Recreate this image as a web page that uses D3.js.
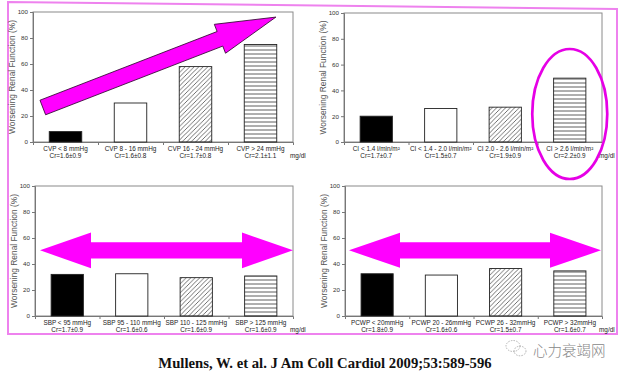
<!DOCTYPE html>
<html>
<head>
<meta charset="utf-8">
<script src="https://cdn.jsdelivr.net/npm/d3@7"></script>
<style>
  body { margin: 0; background: #fff; }
  svg { display: block; }
</style>
</head>
<body>
<div id="chart"></div>
<script>
// ---- data ------------------------------------------------------------
var yTicks = [0, 20, 40, 60, 80, 100];

var cvpLabels = ["CVP < 8 mmHg", "CVP 8 - 16 mmHg", "CVP 16 - 24 mmHg", "CVP > 24 mmHg"];
var cvpCr = ["Cr=1.6±0.9", "Cr=1.6±0.8", "Cr=1.7±0.8", "Cr=2.1±1.1"];
var cvpValues = [8, 30, 58, 75];

var ciLabels = ["CI < 1.4 l/min/m²", "CI < 1.4 - 2.0 l/min/m²", "CI 2.0 - 2.6 l/min/m²", "CI > 2.6 l/min/m²"];
var ciCr = ["Cr=1.7±0.7", "Cr=1.5±0.7", "Cr=1.9±0.9", "Cr=2.2±0.9"];
var ciValues = [20, 26, 27, 49.5];

var sbpLabels = ["SBP < 95 mmHg", "SBP 95 - 110 mmHg", "SBP 110 - 125 mmHg", "SBP > 125 mmHg"];
var sbpCr = ["Cr=1.7±0.9", "Cr=1.6±0.6", "Cr=1.6±0.9", "Cr=1.6±0.9"];
var sbpValues = [32, 32.5, 29.5, 30.8];

var pcwpLabels = ["PCWP < 20mmHg", "PCWP 20 - 26mmHg", "PCWP 26 - 32mmHg", "PCWP > 32mmHg"];
var pcwpCr = ["Cr=1.8±0.9", "Cr=1.6±0.6", "Cr=1.5±0.7", "Cr=1.6±0.7"];
var pcwpValues = [32.5, 31.5, 36.5, 34.7];

var yTitle = "Worsening Renal Function (%)";
var unitLabel = "mg/dl";
var citation = "Mullens, W. et al. J Am Coll Cardiol 2009;53:589-596";
var watermark = "心力衰竭网";

// ---- layout ----------------------------------------------------------
var width = 626, height = 378;
var magenta = '#ff00ff';
var smallFont = "'Liberation Sans', Arial, sans-serif";
var smallSize = '6.4px';

var panels = [
    { labels: cvpLabels, cr: cvpCr, values: cvpValues, left: 33, right: 293, top: 12, bottom: 142 },
    { labels: ciLabels, cr: ciCr, values: ciValues, left: 344, right: 602, top: 13, bottom: 142 },
    { labels: sbpLabels, cr: sbpCr, values: sbpValues, left: 35, right: 293, top: 186, bottom: 316 },
    { labels: pcwpLabels, cr: pcwpCr, values: pcwpValues, left: 345, right: 602, top: 186, bottom: 316 }
];

var fills = ['#000', '#fff', 'url(#diag)', 'url(#horiz)'];

var svg = d3.select('#chart').append('svg')
    .attr('width', width)
    .attr('height', height);

// hatch patterns
var defs = svg.append('defs');
defs.append('pattern')
    .attr('id', 'diag')
    .attr('patternUnits', 'userSpaceOnUse')
    .attr('width', 4.5).attr('height', 4.5)
    .append('path')
    .attr('d', 'M-1,1 l2,-2 M0,4.5 l4.5,-4.5 M3.5,5.5 l2,-2')
    .attr('stroke', '#333').attr('stroke-width', 0.7);
var hp = defs.append('pattern')
    .attr('id', 'horiz')
    .attr('patternUnits', 'userSpaceOnUse')
    .attr('width', 4).attr('height', 4);
hp.append('rect').attr('width', 4).attr('height', 4).attr('fill', '#fff');
hp.append('line')
    .attr('x1', 0).attr('x2', 4).attr('y1', 2).attr('y2', 2)
    .attr('stroke', '#333').attr('stroke-width', 0.8);

// pink frame round the whole figure
svg.append('path')
    .attr('d', 'M8,2 L617,9 L617,334 L8,334 Z')
    .attr('fill', 'none')
    .attr('stroke', '#ee82ee')
    .attr('stroke-width', 2);

// ---- panels ----------------------------------------------------------
panels.forEach(function(p) {
    var g = svg.append('g')
        .attr('transform', 'translate(' + p.left + ',' + p.top + ')');
    var w = p.right - p.left, h = p.bottom - p.top;

    var x = d3.scaleBand()
        .domain(d3.range(p.values.length))
        .range([0, w])
        .paddingInner(0.5)
        .paddingOuter(0.25);
    var y = d3.scaleLinear().domain([0, 100]).range([h, 0]);
    var xSep = d3.scaleLinear().domain([0, p.values.length]).range([0, w]);
    p.x = x; p.y = y; p.g = g;

    // plot frame
    g.append('rect')
        .attr('width', w).attr('height', h)
        .attr('fill', 'none')
        .attr('stroke', '#8a8a8a')
        .attr('stroke-width', 1);

    // y axis
    var ya = g.append('g')
        .call(d3.axisLeft(y).tickValues(yTicks).tickSize(3).tickPadding(2));
    ya.select('.domain').attr('stroke', '#777');
    ya.selectAll('.tick line').attr('stroke', '#777');
    ya.selectAll('.tick text')
        .attr('fill', '#333')
        .style('font-family', smallFont)
        .style('font-size', '6.2px');

    // x axis separators
    var xa = g.append('g')
        .attr('transform', 'translate(0,' + h + ')')
        .call(d3.axisBottom(xSep).tickValues([1, 2, 3]).tickSize(3).tickFormat(''));
    xa.select('.domain').attr('stroke', '#777');
    xa.selectAll('.tick line').attr('stroke', '#777');

    // bars
    g.selectAll('rect.bar')
        .data(p.values)
        .enter().append('rect')
        .attr('class', 'bar')
        .attr('x', function(d, i) { return x(i); })
        .attr('y', function(d) { return y(d); })
        .attr('width', x.bandwidth())
        .attr('height', function(d) { return h - y(d); })
        .attr('fill', function(d, i) { return fills[i]; })
        .attr('stroke', '#222')
        .attr('stroke-width', 0.9);

    // category labels, two lines each
    g.selectAll('text.cat')
        .data(p.labels)
        .enter().append('text')
        .attr('class', 'cat')
        .attr('text-anchor', 'middle')
        .attr('fill', '#222')
        .attr('x', function(d, i) { return x(i) + x.bandwidth() / 2; })
        .attr('y', h + 8.5)
        .style('font-family', smallFont)
        .style('font-size', smallSize)
        .text(function(d) { return d; });
    g.selectAll('text.cr')
        .data(p.cr)
        .enter().append('text')
        .attr('class', 'cr')
        .attr('text-anchor', 'middle')
        .attr('fill', '#222')
        .attr('x', function(d, i) { return x(i) + x.bandwidth() / 2; })
        .attr('y', h + 16)
        .style('font-family', smallFont)
        .style('font-size', smallSize)
        .text(function(d) { return d; });

    g.append('text')
        .attr('x', w - 3).attr('y', h + 16)
        .attr('fill', '#222')
        .style('font-family', smallFont)
        .style('font-size', smallSize)
        .text(unitLabel);

    // y title
    g.append('text')
        .attr('transform', 'translate(-18,' + (h / 2) + ') rotate(-90)')
        .attr('text-anchor', 'middle')
        .attr('fill', '#555')
        .style('font-family', "'Liberation Sans', Arial, sans-serif")
        .style('font-size', '8.4px')
        .text(yTitle);
});

// ---- annotations -----------------------------------------------------
function singleArrow(len, s, hl, hh) {
    return [[0, -s], [len - hl, -s], [len - hl, -hh], [len, 0], [len - hl, hh], [len - hl, s], [0, s]];
}
function doubleArrow(len, s, hl, hh) {
    return [[0, 0], [hl, -hh], [hl, -s], [len - hl, -s], [len - hl, -hh], [len, 0],
            [len - hl, hh], [len - hl, s], [hl, s], [hl, hh]];
}
var line = d3.line();

// rising arrow over the CVP panel
var p0 = panels[0];
p0.g.append('path')
    .attr('transform', 'translate(9.8,95.5) rotate(-21.2)')
    .attr('d', line(singleArrow(250, 7.8, 60, 15.5)) + 'Z')
    .attr('fill', magenta)
    .attr('stroke', '#3a0a3a')
    .attr('stroke-width', 0.8);

// flat double arrows over the SBP and PCWP panels, at the 50% level
[[panels[2], 5, 253, 51, 17.8], [panels[3], 4, 252, 51, 17.5]].forEach(function(a) {
    var p = a[0];
    p.g.append('path')
        .attr('transform', 'translate(' + a[1] + ',' + p.y(50.5) + ')')
        .attr('d', line(doubleArrow(a[2], 8.2, a[3], a[4])) + 'Z')
        .attr('fill', magenta);
});

// ellipse round the CI > 2.6 bar
var p1 = panels[1];
p1.g.append('ellipse')
    .attr('cx', p1.x(3) + p1.x.bandwidth() / 2)
    .attr('cy', 101)
    .attr('rx', 37.5)
    .attr('ry', 65)
    .attr('fill', 'none')
    .attr('stroke', '#e600e6')
    .attr('stroke-width', 2.7);

// ---- citation and watermark ------------------------------------------
svg.append('text')
    .attr('x', 325).attr('y', 368)
    .attr('text-anchor', 'middle')
    .attr('fill', '#111')
    .style('font-family', "Georgia, 'Liberation Serif', 'DejaVu Serif', serif")
    .style('font-weight', 'bold')
    .style('font-size', '14.7px')
    .text(citation);

var wm = svg.append('g').attr('fill', 'none').attr('stroke', '#aaa').attr('stroke-width', 0.9)
    .attr('stroke-dasharray', '1.5,1.2');
wm.append('ellipse').attr('cx', 513).attr('cy', 346).attr('rx', 7).attr('ry', 5.5);
wm.append('ellipse').attr('cx', 520).attr('cy', 351).attr('rx', 6).attr('ry', 4.8);

svg.append('text')
    .attr('x', 533).attr('y', 356)
    .attr('fill', '#888')
    .style('font-family', "'Noto Sans CJK SC', sans-serif")
    .style('font-weight', 300)
    .style('font-size', '14.5px')
    .text(watermark);
</script>
</body>
</html>
